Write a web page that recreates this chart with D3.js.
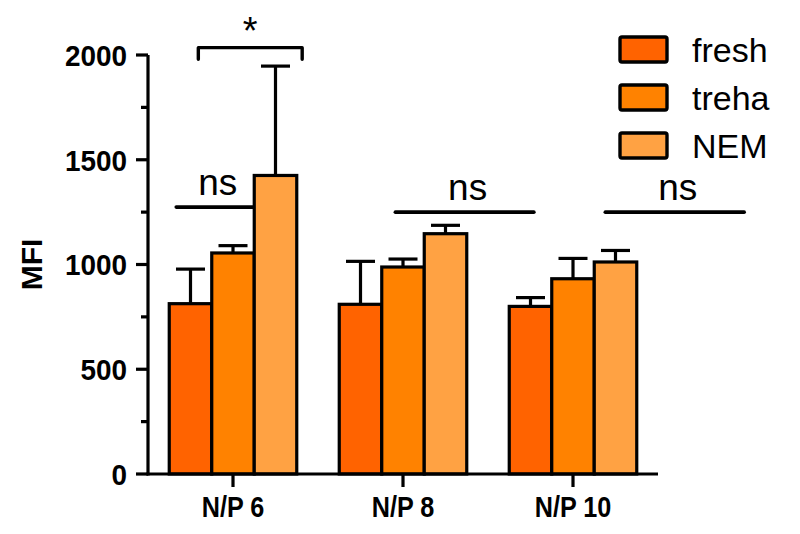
<!DOCTYPE html>
<html><head><meta charset="utf-8">
<script src="https://cdn.jsdelivr.net/npm/d3@7/dist/d3.min.js"></script>
<style>body{margin:0;background:#fff}svg{display:block}text{font-family:"Liberation Sans",Arial,sans-serif}</style>
</head><body>
<svg id="c" width="800" height="534"></svg>
<script>
const categories = ["N/P 6", "N/P 8", "N/P 10"];
const seriesNames = ["fresh", "treha", "NEM"];
const freshMean = [813, 810, 800];
const trehaMean = [1055, 988, 932];
const nemMean = [1425, 1147, 1012];
const freshErr = [165, 205, 42];
const trehaErr = [35, 38, 97];
const nemErr = [522, 40, 55];
const colors = ["#ff6300", "#ff8200", "#ffa243"];
const yTicks = [0, 500, 1000, 1500, 2000];
const yMinorTicks = [250, 750, 1250, 1750];
// annotations: x in continuous group-index units, y in data units
const nsLines = [
  {x1: -0.334, x2: 0.119, y: 1274, label: "ns"},
  {x1: 0.955, x2: 1.77, y: 1250, label: "ns"},
  {x1: 2.19, x2: 3.007, y: 1250, label: "ns"}
];
const starBracket = {x1: -0.204, x2: 0.407, y: 2035, drop: 55, label: "*"};

const means = [freshMean, trehaMean, nemMean];
const errs = [freshErr, trehaErr, nemErr];

const svg = d3.select("#c");
const mLeft = 148, mRight = 658, mTop = 55, mBottom = 474;

const x0 = d3.scaleBand().domain(categories).range([mLeft, mRight]).paddingInner(0.25).paddingOuter(0.125);
const x1 = d3.scaleBand().domain(seriesNames).range([0, x0.bandwidth()]);
const y = d3.scaleLinear().domain([0, 2000]).range([mBottom, mTop]);
const gx = d3.scaleLinear().domain([0, 2]).range([x0(categories[0]) + x0.bandwidth()/2, x0(categories[2]) + x0.bandwidth()/2]);

function squeeze(sel, f) {
  sel.each(function() {
    const w = this.getComputedTextLength();
    d3.select(this).attr("textLength", w * f).attr("lengthAdjust", "spacingAndGlyphs");
  });
}

const data = [];
categories.forEach((c, i) => seriesNames.forEach((s, j) => data.push({c, s, j, v: means[j][i], e: errs[j][i]})));

const g = svg.append("g");
data.forEach(d => {
  const cx = x0(d.c) + x1(d.s) + x1.bandwidth()/2;
  g.append("line").attr("x1", cx).attr("x2", cx).attr("y1", y(d.v)).attr("y2", y(d.v + d.e))
    .attr("stroke", "#000").attr("stroke-width", 3.2);
  g.append("line").attr("x1", cx - 14.5).attr("x2", cx + 14.5).attr("y1", y(d.v + d.e)).attr("y2", y(d.v + d.e))
    .attr("stroke", "#000").attr("stroke-width", 3.2);
});
g.selectAll("rect.bar").data(data).join("rect").attr("class", "bar")
  .attr("x", d => x0(d.c) + x1(d.s))
  .attr("width", x1.bandwidth())
  .attr("y", d => y(d.v))
  .attr("height", d => y(0) - y(d.v))
  .attr("fill", d => colors[d.j])
  .attr("stroke", "#000").attr("stroke-width", 3.2);

// y axis
const ya = svg.append("g");
ya.append("line").attr("x1", mLeft).attr("x2", mLeft).attr("y1", y(0) + 1.5).attr("y2", y(2000)).attr("stroke", "#000").attr("stroke-width", 3.2);
yTicks.forEach(t => {
  ya.append("line").attr("x1", mLeft - 12).attr("x2", mLeft).attr("y1", y(t)).attr("y2", y(t)).attr("stroke", "#000").attr("stroke-width", 3.2);
  const tx = ya.append("text").attr("x", mLeft - 21).attr("y", y(t)).attr("dy", "0.36em").attr("text-anchor", "end")
    .attr("font-size", 30).attr("font-weight", "bold").text(t);
  squeeze(tx, 0.93);
});
yMinorTicks.forEach(t => {
  ya.append("line").attr("x1", mLeft - 7).attr("x2", mLeft).attr("y1", y(t)).attr("y2", y(t)).attr("stroke", "#000").attr("stroke-width", 3.2);
});
svg.append("text").attr("transform", `translate(42,${(y(0)+y(2000))/2}) rotate(-90)`)
  .attr("text-anchor", "middle").attr("font-size", 30).attr("font-weight", "bold").text("MFI");

// x axis
const xa = svg.append("g");
xa.append("line").attr("x1", mLeft - 1.5).attr("x2", mRight).attr("y1", y(0)).attr("y2", y(0)).attr("stroke", "#000").attr("stroke-width", 3.2);
categories.forEach(c => {
  const cx = x0(c) + x0.bandwidth()/2;
  xa.append("line").attr("x1", cx).attr("x2", cx).attr("y1", y(0)).attr("y2", y(0) + 13).attr("stroke", "#000").attr("stroke-width", 3.2);
  const tx = xa.append("text").attr("x", cx).attr("y", 517).attr("text-anchor", "middle")
    .attr("font-size", 30).attr("font-weight", "bold").text(c);
  squeeze(tx, 0.84);
});

// ns annotations
nsLines.forEach(a => {
  svg.append("line").attr("x1", gx(a.x1)).attr("x2", gx(a.x2)).attr("y1", y(a.y)).attr("y2", y(a.y))
    .attr("stroke", "#000").attr("stroke-width", 3.6).attr("stroke-linecap", "round");
  svg.append("text").attr("x", (gx(a.x1) + gx(a.x2))/2 + 3).attr("y", y(a.y) - 12).attr("text-anchor", "middle")
    .attr("font-size", 37).text(a.label);
});
// star bracket
const b = starBracket;
svg.append("path").attr("d", `M${gx(b.x1)},${y(b.y - b.drop)}V${y(b.y)}H${gx(b.x2)}V${y(b.y - b.drop)}`)
  .attr("fill", "none").attr("stroke", "#000").attr("stroke-width", 3.4).attr("stroke-linecap", "round").attr("stroke-linejoin", "round");
svg.append("text").attr("x", (gx(b.x1) + gx(b.x2))/2).attr("y", y(b.y) - 4).attr("text-anchor", "middle")
  .attr("font-size", 38).text(b.label);

// legend
const lg = svg.append("g");
seriesNames.forEach((s, i) => {
  const yy = 37 + i * 48;
  lg.append("rect").attr("x", 620).attr("y", yy).attr("width", 47).attr("height", 25).attr("rx", 2)
    .attr("fill", colors[i]).attr("stroke", "#000").attr("stroke-width", 3.4);
  lg.append("text").attr("x", 692).attr("y", yy + 12.5).attr("dy", "0.36em").attr("font-size", 34).text(s);
});
</script>
</body></html>
